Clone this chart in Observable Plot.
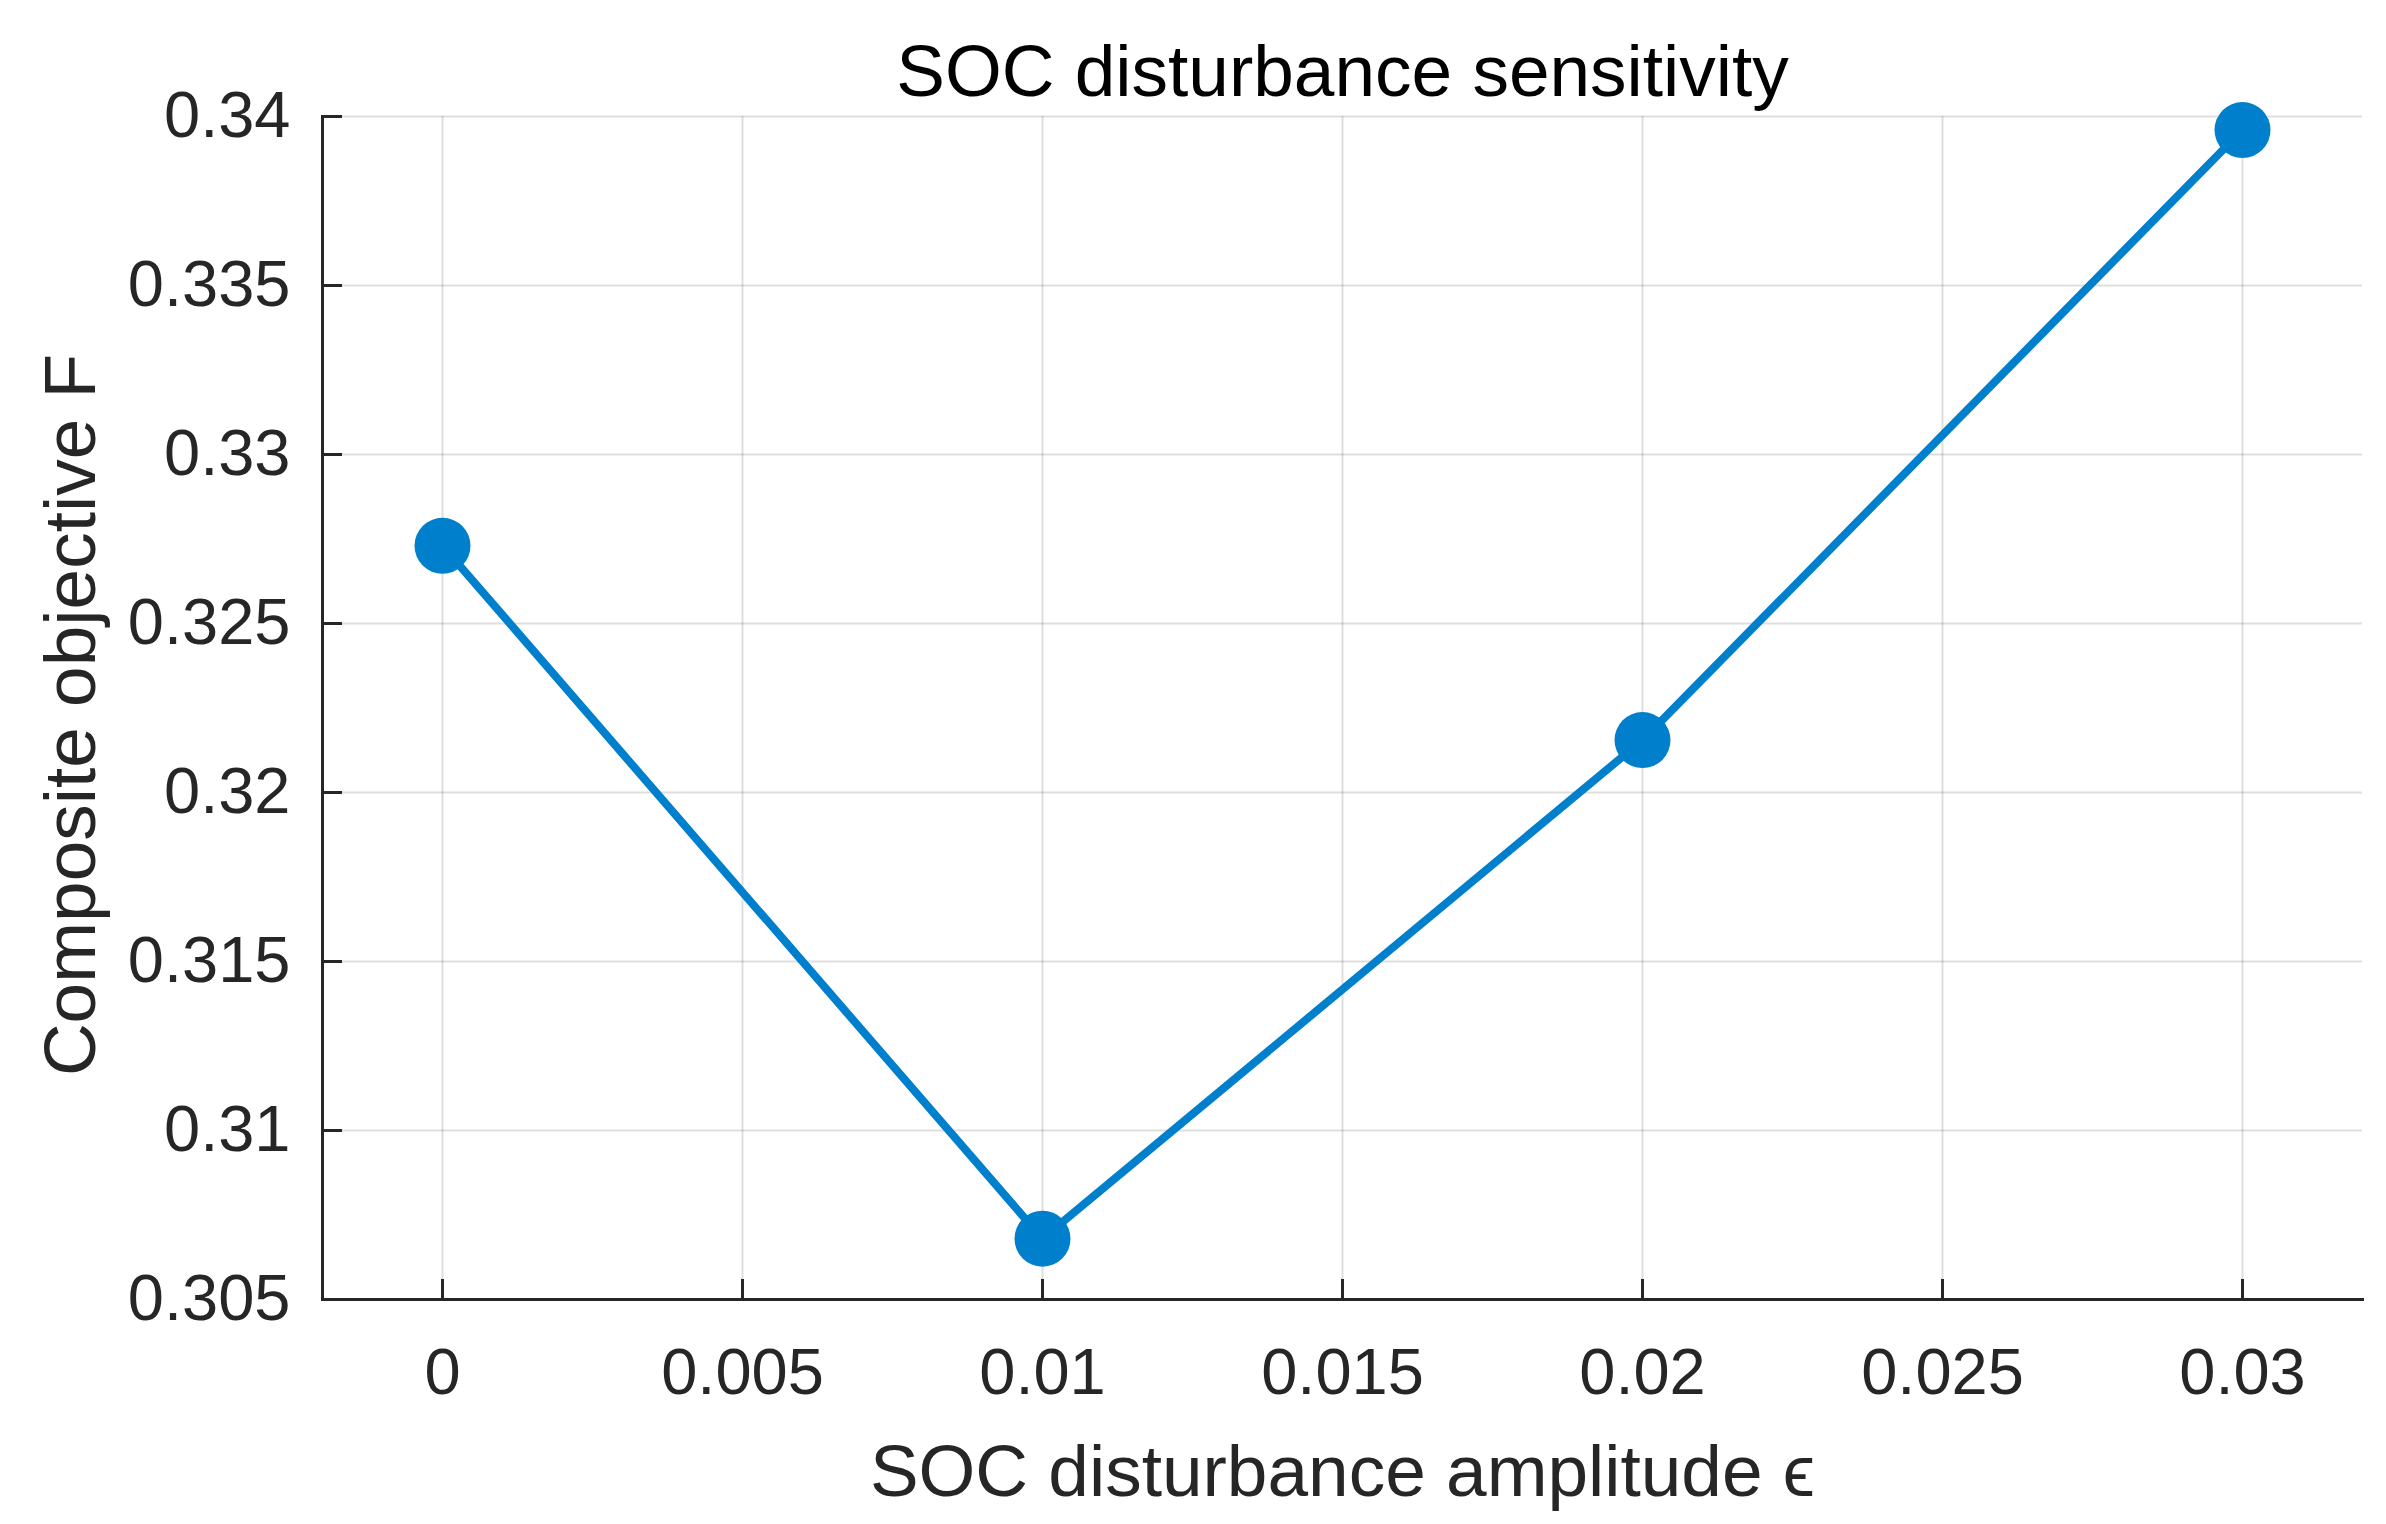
<!DOCTYPE html>
<html><head><meta charset="utf-8">
<script src="https://cdn.jsdelivr.net/npm/d3@7"></script>
<script src="https://cdn.jsdelivr.net/npm/@observablehq/plot@0.6"></script>
<style>body{margin:0;background:#fff}</style>
</head><body><div id="chart"></div>
<script>
const amplitudes = [0, 0.01, 0.02, 0.03];
const objective = [0.3273, 0.3068, 0.32155, 0.3396];
const xTicks = [0, 0.005, 0.01, 0.015, 0.02, 0.025, 0.03];
const xTickLabels = ["0", "0.005", "0.01", "0.015", "0.02", "0.025", "0.03"];
const yTicks = [0.305, 0.31, 0.315, 0.32, 0.325, 0.33, 0.335, 0.34];
const yTickLabels = ["0.305", "0.31", "0.315", "0.32", "0.325", "0.33", "0.335", "0.34"];
const titleText = "SOC disturbance sensitivity";
const xLabel = "SOC disturbance amplitude \u03F5";
const yLabel = "Composite objective F";

const data = amplitudes.map((a, i) => ({a, f: objective[i]}));
const blue = "#0080cc";
const ink = "#262626";
const W = 2386, H = 1524, mL = 322, mR = 24, mT = 116, mB = 225;
const fh = H - mT - mB, fw = W - mL - mR;

const chart = Plot.plot({
  width: W, height: H,
  marginLeft: mL, marginRight: mR, marginTop: mT, marginBottom: mB,
  style: {fontFamily: "'Liberation Sans', Arial, sans-serif", background: "#fff", color: ink},
  x: {domain: [-0.002, 0.032]},
  y: {domain: [0.305, 0.34]},
  marks: [
    Plot.gridX(xTicks, {stroke: "#000", strokeOpacity: 0.13, strokeWidth: 2}),
    Plot.gridY(yTicks, {stroke: "#000", strokeOpacity: 0.13, strokeWidth: 2}),
    Plot.tickX(xTicks, {x: d => d, insetTop: fh - 20, stroke: ink, strokeWidth: 3}),
    Plot.tickY(yTicks, {y: d => d, insetRight: fw - 20, stroke: ink, strokeWidth: 3}),
    Plot.frame({anchor: "left", stroke: ink, strokeWidth: 3}),
    Plot.frame({anchor: "bottom", stroke: ink, strokeWidth: 3}),
    Plot.axisX(xTicks, {tickSize: 0, tickPadding: 48, fontSize: 65, label: null,
      tickFormat: d => xTickLabels[xTicks.indexOf(d)]}),
    Plot.axisY(yTicks, {tickSize: 0, tickPadding: 32, fontSize: 65, label: null,
      tickFormat: d => yTickLabels[yTicks.indexOf(d)]}),
    Plot.line(data, {x: "a", y: "f", stroke: blue, strokeWidth: 8}),
    Plot.dot(data, {x: "a", y: "f", r: 28, fill: blue, stroke: "none"}),
    Plot.text([titleText], {text: d => d, frameAnchor: "top", textAnchor: "middle", lineAnchor: "bottom",
      dy: -21, fontSize: 73, fill: "#000"}),
    Plot.text([xLabel], {text: d => d, frameAnchor: "bottom", textAnchor: "middle", lineAnchor: "bottom",
      dy: 196, fontSize: 73, fill: ink}),
    Plot.text([yLabel], {text: d => d, frameAnchor: "left", textAnchor: "middle", lineAnchor: "bottom",
      rotate: -90, dx: -228, dy: 7, fontSize: 73, fill: ink})
  ]
});
document.getElementById("chart").appendChild(chart);
</script>
</body></html>
